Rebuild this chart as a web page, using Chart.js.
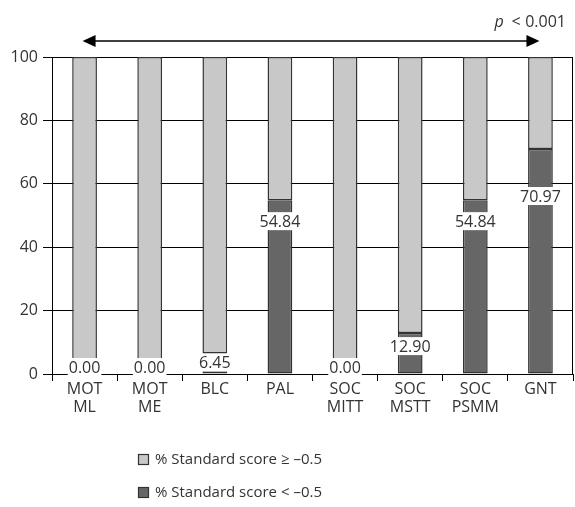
<!DOCTYPE html>
<html>
<head>
<meta charset="utf-8">
<script src="https://cdn.jsdelivr.net/npm/chart.js@4.4.1/dist/chart.umd.min.js"></script>
<style>
  html, body { margin: 0; padding: 0; background: #fff; }
  #wrap { width: 575px; height: 507px; position: relative; }
</style>
</head>
<body>
<div id="wrap"><canvas id="chart"></canvas></div>
<script>
// chart data
const categories = [['MOT', 'ML'], ['MOT', 'ME'], ['BLC'], ['PAL'], ['SOC', 'MITT'], ['SOC', 'MSTT'], ['SOC', 'PSMM'], ['GNT']];
const belowValues = [0.00, 0.00, 6.45, 54.84, 0.00, 12.90, 54.84, 70.97];
const aboveValues = [100.00, 100.00, 93.55, 45.16, 100.00, 87.10, 45.16, 29.03];
const yTicks = [0, 20, 40, 60, 80, 100];
const seriesNames = ['% Standard score < \u20130.5', '% Standard score \u2265 \u20130.5'];
const pValue = '0.001';

const FONT = '"Open Sans", "Noto Sans", sans-serif';
const TEXT = '#333';

// pixel nudges for the value labels (relative to top of dark bar)
const labelNudge = [-7, -7, 9, 21, -7, 13, 21, 47];

const valueLabels = {
    id: 'valueLabels',
    afterDatasetsDraw(chart) {
        const ctx = chart.ctx;
        const meta = chart.getDatasetMeta(0);
        ctx.save();
        ctx.font = '16px ' + FONT;
        ctx.textAlign = 'center';
        ctx.textBaseline = 'middle';
        meta.data.forEach((bar, i) => {
            const txt = belowValues[i].toFixed(2);
            const y = bar.y + labelNudge[i];
            const w = ctx.measureText(txt).width + 2;
            ctx.fillStyle = '#fff';
            ctx.fillRect(bar.x - w / 2, y - 9, w, 18);
            ctx.fillStyle = TEXT;
            ctx.fillText(txt, bar.x, y + 1);
        });
        ctx.restore();
    }
};

const decorations = {
    id: 'decorations',
    afterDraw(chart) {
        const ctx = chart.ctx;
        const area = chart.chartArea;
        const xs = chart.getDatasetMeta(0).data;
        ctx.save();

        // right border of plot
        ctx.strokeStyle = '#000';
        ctx.lineWidth = 1;
        ctx.beginPath();
        ctx.moveTo(area.right - 0.5, area.top);
        ctx.lineTo(area.right - 0.5, area.bottom);
        ctx.stroke();

        // significance arrow
        const ay = 41;
        const x0 = xs[0].x - 2, x1 = xs[xs.length - 1].x - 1;
        ctx.lineWidth = 1.5;
        ctx.beginPath();
        ctx.moveTo(x0 + 8, ay);
        ctx.lineTo(x1 - 8, ay);
        ctx.stroke();
        ctx.fillStyle = '#000';
        ctx.beginPath();
        ctx.moveTo(x0, ay); ctx.lineTo(x0 + 13, ay - 6); ctx.lineTo(x0 + 13, ay + 6); ctx.closePath();
        ctx.fill();
        ctx.beginPath();
        ctx.moveTo(x1, ay); ctx.lineTo(x1 - 13, ay - 6); ctx.lineTo(x1 - 13, ay + 6); ctx.closePath();
        ctx.fill();

        // p value
        ctx.fillStyle = TEXT;
        ctx.textBaseline = 'alphabetic';
        ctx.textAlign = 'right';
        ctx.font = '16px ' + FONT;
        ctx.fillText(pValue, 566, 27);
        ctx.textAlign = 'center';
        ctx.fillText('<', 516, 27);
        ctx.font = 'italic 16px ' + FONT;
        ctx.fillText('p', 499, 27);

        // legend (light first, then dark)
        const items = [
            { ds: chart.data.datasets[1], y: 459 },
            { ds: chart.data.datasets[0], y: 492 }
        ];
        ctx.font = '15px ' + FONT;
        ctx.textAlign = 'left';
        ctx.textBaseline = 'middle';
        items.forEach(it => {
            ctx.fillStyle = it.ds.backgroundColor;
            ctx.fillRect(138, it.y - 5, 11, 11);
            ctx.strokeStyle = '#333';
            ctx.lineWidth = 1.2;
            ctx.strokeRect(138.5, it.y - 4.5, 10, 10);
            ctx.fillStyle = TEXT;
            ctx.fillText(it.ds.label, 155, it.y + 1);
        });
        ctx.restore();
    }
};

new Chart(document.getElementById('chart'), {
    type: 'bar',
    data: {
        labels: categories,
        datasets: [
            {
                label: seriesNames[0],
                data: belowValues,
                backgroundColor: '#666666',
                borderColor: '#333',
                borderWidth: 1.5,
                borderSkipped: false
            },
            {
                label: seriesNames[1],
                data: aboveValues,
                backgroundColor: '#c8c8c8',
                borderColor: '#333',
                borderWidth: 1.5,
                borderSkipped: false
            }
        ]
    },
    options: {
        responsive: true,
        maintainAspectRatio: false,
        animation: false,
        barPercentage: 0.38,
        categoryPercentage: 1,
        layout: { padding: { top: 57, right: 2, left: 0, bottom: 0 } },
        plugins: {
            legend: { display: false },
            tooltip: { enabled: false }
        },
        scales: {
            x: {
                stacked: true,
                offset: true,
                grid: {
                    offset: true,
                    drawOnChartArea: false,
                    drawTicks: true,
                    tickLength: 7,
                    color: '#000'
                },
                border: { color: '#000', width: 1 },
                ticks: {
                    color: TEXT,
                    font: { family: FONT, size: 16, lineHeight: 1.1 },
                    padding: 0,
                    maxRotation: 0
                },
                afterFit(scale) { scale.height = 133; }
            },
            y: {
                stacked: true,
                min: 0,
                max: 100,
                afterBuildTicks(scale) { scale.ticks = yTicks.map(v => ({ value: v })); },
                grid: {
                    color: '#000',
                    lineWidth: 1,
                    tickLength: 9
                },
                border: { color: '#000', width: 1 },
                ticks: {
                    color: TEXT,
                    font: { family: FONT, size: 16 },
                    padding: 5
                },
                afterFit(scale) { scale.width = 52; }
            }
        }
    },
    plugins: [valueLabels, decorations]
});
</script>
</body>
</html>
